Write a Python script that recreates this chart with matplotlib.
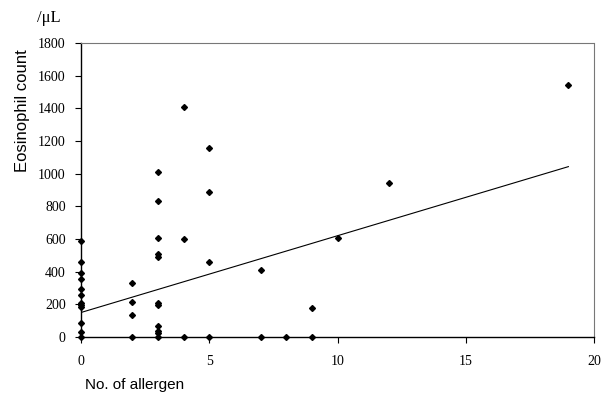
import numpy as np
import matplotlib
matplotlib.use("Agg")
import matplotlib.pyplot as plt

# number of allergens vs eosinophil count (per uL)
allergens = [0]*12 + [2]*4 + [3]*11 + [4]*3 + [5]*4 + [7, 7, 8, 9, 9, 10, 12, 19]
eos = [588, 461, 390, 353, 292, 255, 210, 196, 182, 88, 33, 0,
       329, 214, 133, 0,
       1012, 835, 608, 508, 488, 210, 196, 69, 37, 22, 0,
       1406, 602, 0,
       1155, 890, 459, 0,
       408, 0, 0, 180, 0, 608, 941, 1543]

# regression line as printed (intercept, slope)
fit_b0 = 150
fit_b1 = 47
fit_x = [0, 19]

xticks = [0, 5, 10, 15, 20]
yticks = [0, 200, 400, 600, 800, 1000, 1200, 1400, 1600, 1800]

fig = plt.figure(figsize=(6.01, 4.03), dpi=100)
ax = fig.add_axes([0.1348, 0.1638, 0.8536, 0.7295])

xx = np.array(fit_x)
ax.plot(xx, fit_b0 + fit_b1*xx, color='black', lw=0.8)
ax.plot(allergens, eos, linestyle='none', marker='D', ms=3, color='black', clip_on=False, zorder=3)

ax.set_xlim(0, 20)
ax.set_ylim(0, 1800)
ax.set_xticks(xticks)
ax.set_yticks(yticks)

serif = ['Liberation Serif', 'DejaVu Serif']
for lab in ax.get_xticklabels() + ax.get_yticklabels():
    lab.set_family(serif)
    lab.set_fontsize(10)
ax.tick_params(axis='both', direction='out', length=4, width=0.8, color='black')
ax.tick_params(axis='y', pad=7)
ax.tick_params(axis='x', pad=9)

ax.spines['left'].set_linewidth(1.0)
ax.spines['bottom'].set_linewidth(1.0)
for s in ['top', 'right']:
    ax.spines[s].set_linestyle((0, (1, 1)))
    ax.spines[s].set_color('#777777')
    ax.spines[s].set_linewidth(0.8)

fig.text(0.037, 0.725, 'Eosinophil count', rotation=90, ha='center', va='center',
         family=['Liberation Sans', 'DejaVu Sans'], fontsize=12, weight='medium')
fig.text(85/601, 1 - 385/403, 'No. of allergen', ha='left', va='center',
         family=['Liberation Sans', 'DejaVu Sans'], fontsize=11)
fig.text(37/601, 1 - 18/403, '/\u03bcL', ha='left', va='center',
         family=serif, fontsize=12)

fig.savefig('out.png', dpi=100)
